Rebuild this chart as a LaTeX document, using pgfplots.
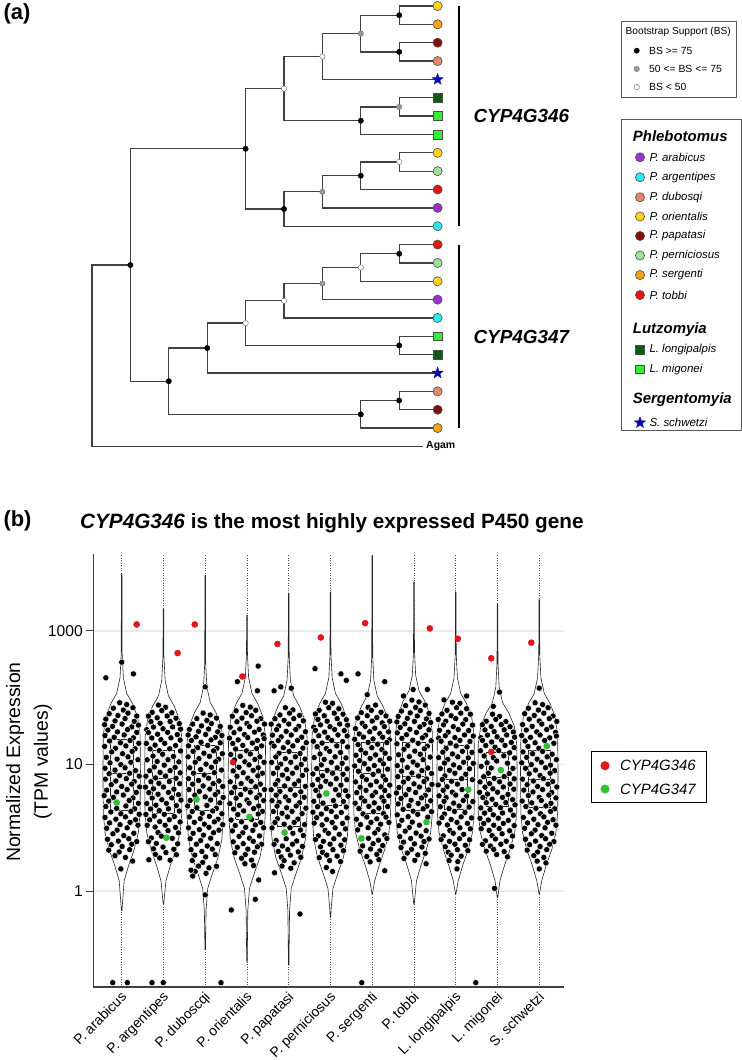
\documentclass[border=0pt]{standalone}
\usepackage{fontspec}
\setmainfont{Liberation Sans}
\usepackage{pgfplots}
\pgfplotsset{compat=1.18}

\definecolor{cArab}{HTML}{9B30D0}
\definecolor{cArg}{HTML}{30E8F0}
\definecolor{cDub}{HTML}{E8866C}
\definecolor{cOri}{HTML}{FFD21E}
\definecolor{cPap}{HTML}{8B0A0A}
\definecolor{cPer}{HTML}{9EE09A}
\definecolor{cSer}{HTML}{F5A01A}
\definecolor{cTob}{HTML}{EE1111}
\definecolor{cLon}{HTML}{0E5A10}
\definecolor{cMig}{HTML}{33EE33}
\definecolor{cSch}{HTML}{0A0AAA}
\definecolor{cR}{HTML}{E8141C}
\definecolor{cG}{HTML}{30C530}

% filled five-point star
\pgfdeclareplotmark{fstar}{%
  \pgfpathmoveto{\pgfqpointpolar{90}{\pgfplotmarksize}}%
  \pgfpathlineto{\pgfqpointpolar{126}{0.42\pgfplotmarksize}}%
  \pgfpathlineto{\pgfqpointpolar{162}{\pgfplotmarksize}}%
  \pgfpathlineto{\pgfqpointpolar{198}{0.42\pgfplotmarksize}}%
  \pgfpathlineto{\pgfqpointpolar{234}{\pgfplotmarksize}}%
  \pgfpathlineto{\pgfqpointpolar{270}{0.42\pgfplotmarksize}}%
  \pgfpathlineto{\pgfqpointpolar{306}{\pgfplotmarksize}}%
  \pgfpathlineto{\pgfqpointpolar{342}{0.42\pgfplotmarksize}}%
  \pgfpathlineto{\pgfqpointpolar{18}{\pgfplotmarksize}}%
  \pgfpathlineto{\pgfqpointpolar{54}{0.42\pgfplotmarksize}}%
  \pgfpathclose\pgfusepathqfillstroke}

\pgfplotsset{
  trln/.style={black!75, line width=1.3bp},
  leafc/.style={only marks, mark=*, mark size=4.6, mark options={draw=black!70, line width=0.6bp, fill=#1}},
  leafs/.style={only marks, mark=square*, mark size=4.4, mark options={draw=black!70, line width=0.6bp, fill=#1}},
  vio/.style={draw=black!85, line width=0.6bp, fill=white},
  bx/.style={draw=black!85, line width=0.6bp, fill=black!5},
  md/.style={draw=black!85, line width=0.7bp},
  pts/.style={only marks, mark=*, mark size=3.1, mark options={fill=black, draw=white, line width=0.4bp}},
}

\begin{document}
\begin{tikzpicture}
\useasboundingbox (0,0) rectangle (742bp,-1060bp);

% ---------------- panel (a): tree, drawn in a page-sized axis (pixel units)
\begin{axis}[at={(0,0)}, anchor=north west, scale only axis,
  width=742bp, height=1060bp, xmin=0, xmax=742, ymin=0, ymax=1060,
  y dir=reverse, hide axis, clip=false]

% branches
\addplot[trln] coordinates {(437.6,6) (399.2,6) (399.2,24.35) (437.6,24.35)};
\addplot[trln] coordinates {(437.6,42.7) (399.2,42.7) (399.2,61.05) (437.6,61.05)};
\addplot[trln] coordinates {(399.2,15.18) (360.8,15.18) (360.8,51.88) (399.2,51.88)};
\addplot[trln] coordinates {(360.8,33.53) (322.4,33.53) (322.4,79.4) (437.6,79.4)};
\addplot[trln] coordinates {(437.6,97.75) (399.2,97.75) (399.2,116.1) (437.6,116.1)};
\addplot[trln] coordinates {(399.2,106.93) (360.8,106.93) (360.8,134.45) (437.6,134.45)};
\addplot[trln] coordinates {(322.4,56.46) (284,56.46) (284,120.69) (360.8,120.69)};
\addplot[trln] coordinates {(437.6,152.8) (399.2,152.8) (399.2,171.15) (437.6,171.15)};
\addplot[trln] coordinates {(399.2,161.98) (360.8,161.98) (360.8,189.5) (437.6,189.5)};
\addplot[trln] coordinates {(360.8,175.74) (322.4,175.74) (322.4,207.85) (437.6,207.85)};
\addplot[trln] coordinates {(322.4,191.8) (284,191.8) (284,226.2) (437.6,226.2)};
\addplot[trln] coordinates {(284,88.58) (245.6,88.58) (245.6,209) (284,209)};
\addplot[trln] coordinates {(437.6,244.55) (399.2,244.55) (399.2,262.9) (437.6,262.9)};
\addplot[trln] coordinates {(399.2,253.73) (360.8,253.73) (360.8,281.25) (437.6,281.25)};
\addplot[trln] coordinates {(360.8,267.49) (322.4,267.49) (322.4,299.6) (437.6,299.6)};
\addplot[trln] coordinates {(322.4,283.55) (284,283.55) (284,317.95) (437.6,317.95)};
\addplot[trln] coordinates {(437.6,336.3) (399.2,336.3) (399.2,354.65) (437.6,354.65)};
\addplot[trln] coordinates {(284,300.75) (245.6,300.75) (245.6,345.48) (399.2,345.48)};
\addplot[trln] coordinates {(245.6,323.1) (207.2,323.1) (207.2,373) (437.6,373)};
\addplot[trln] coordinates {(437.6,391.35) (399.2,391.35) (399.2,409.7) (437.6,409.7)};
\addplot[trln] coordinates {(399.2,400.5) (360.8,400.5) (360.8,428.05) (437.6,428.05)};
\addplot[trln] coordinates {(207.2,348.05) (168.8,348.05) (168.8,414.3) (360.8,414.3)};
\addplot[trln] coordinates {(245.6,148.79) (130.4,148.79) (130.4,381.2) (168.8,381.2)};
\addplot[trln] coordinates {(130.4,265) (92,265) (92,446.4) (422.7,446.4)};

% bootstrap support at nodes (and legend dots)
\addplot[only marks, mark=*, mark size=2.7, mark options={fill=black, draw=black, line width=0.4bp}] coordinates {
 (399.2,15.18) (399.2,51.88) (360.8,120.69) (360.8,175.74) (284,209) (245.6,148.79)
 (399.2,253.73) (399.2,345.48) (207.2,348.05) (399.2,400.5) (360.8,414.3) (168.8,381.2)
 (130.4,265) (636.7,50.7)};
\addplot[only marks, mark=*, mark size=2.7, mark options={fill=black!40, draw=black!55, line width=0.4bp}] coordinates {
 (360.8,33.53) (399.2,106.93) (322.4,191.8) (322.4,283.55) (636.7,69)};
\addplot[only marks, mark=*, mark size=2.7, mark options={fill=white, draw=black!60, line width=0.4bp}] coordinates {
 (322.4,56.46) (284,88.58) (399.2,161.98) (360.8,267.49) (284,300.75) (245.6,323.1) (636.7,87)};

% tips (last point of each series is its legend marker)
\addplot[leafc=cArab] coordinates {(437.6,207.85) (437.6,299.6) (640,157.3)};
\addplot[leafc=cArg] coordinates {(437.6,226.2) (437.6,317.95) (640,177.3)};
\addplot[leafc=cDub] coordinates {(437.6,61.05) (437.6,391.35) (640,197.3)};
\addplot[leafc=cOri] coordinates {(437.6,6) (437.6,152.8) (437.6,281.25) (640,216.5)};
\addplot[leafc=cPap] coordinates {(437.6,42.7) (437.6,409.7) (640,236)};
\addplot[leafc=cPer] coordinates {(437.6,171.15) (437.6,262.9) (640,255.5)};
\addplot[leafc=cSer] coordinates {(437.6,24.35) (437.6,428.05) (640,275)};
\addplot[leafc=cTob] coordinates {(437.6,189.5) (437.6,244.55) (640,295)};
\addplot[leafs=cLon] coordinates {(437.6,97.75) (437.6,354.65) (640,350)};
\addplot[leafs=cMig] coordinates {(437.6,116.1) (437.6,134.45) (437.6,336.3) (640,369.3)};
\addplot[only marks, mark=fstar, mark size=6, mark options={fill=cSch, draw=cSch, line width=0.3bp}] coordinates {(437.6,79.4) (437.6,373) (640,422.7)};

% clade bars
\addplot[black, line width=2bp] coordinates {(459,6) (459,226.2)};
\addplot[black, line width=2bp] coordinates {(459,244.6) (459,428)};

\node[anchor=west, font=\fontsize{22}{24}\selectfont\bfseries] at (0,14) {(a)};
\node[anchor=west, font=\fontsize{19}{22}\selectfont\bfseries\itshape] at (470,116) {CYP4G346};
\node[anchor=west, font=\fontsize{19}{22}\selectfont\bfseries\itshape] at (470,336.5) {CYP4G347};
\node[anchor=west, font=\fontsize{10.5}{12}\selectfont\bfseries, inner sep=1bp] at (425,446.4) {Agam};

% legends of (a)
\draw[black!65, line width=0.8bp] (621,21) rectangle (736,97.7);
\node[anchor=west, font=\fontsize{10.2}{12}\selectfont, inner sep=0pt] at (625.5,32.3) {Bootstrap Support (BS)};
\node[anchor=west, font=\fontsize{10.4}{12}\selectfont, inner sep=0pt] at (649,50.7) {BS >= 75};
\node[anchor=west, font=\fontsize{10.4}{12}\selectfont, inner sep=0pt] at (649,69) {50 <= BS <= 75};
\node[anchor=west, font=\fontsize{10.4}{12}\selectfont, inner sep=0pt] at (649,87) {BS < 50};

\draw[black!65, line width=0.8bp] (621.7,119) rectangle (741,430);
\begin{scope}[every node/.style={anchor=west, inner sep=0pt}]
\node[font=\fontsize{15}{17}\selectfont\bfseries\itshape] at (632.7,135.7) {Phlebotomus};
\node[font=\fontsize{15}{17}\selectfont\bfseries\itshape] at (632.7,329.3) {Lutzomyia};
\node[font=\fontsize{15}{17}\selectfont\bfseries\itshape] at (632.7,400) {Sergentomyia};
\node[font=\fontsize{11.5}{13}\selectfont\itshape] at (649.3,157.3) {P. arabicus};
\node[font=\fontsize{11.5}{13}\selectfont\itshape] at (649.3,177.3) {P. argentipes};
\node[font=\fontsize{11.5}{13}\selectfont\itshape] at (649.3,197.3) {P. dubosqi};
\node[font=\fontsize{11.5}{13}\selectfont\itshape] at (649.3,216.5) {P. orientalis};
\node[font=\fontsize{11.5}{13}\selectfont\itshape] at (649.3,236) {P. papatasi};
\node[font=\fontsize{11.5}{13}\selectfont\itshape] at (649.3,255.5) {P. perniciosus};
\node[font=\fontsize{11.5}{13}\selectfont\itshape] at (649.3,275) {P. sergenti};
\node[font=\fontsize{11.5}{13}\selectfont\itshape] at (649.3,295) {P. tobbi};
\node[font=\fontsize{11.5}{13}\selectfont\itshape] at (649.3,350) {L. longipalpis};
\node[font=\fontsize{11.5}{13}\selectfont\itshape] at (649.3,369.3) {L. migonei};
\node[font=\fontsize{11.5}{13}\selectfont\itshape] at (649.3,422.7) {S. schwetzi};
\end{scope}

% texts and legend of (b)
\node[anchor=west, font=\fontsize{22}{24}\selectfont\bfseries] at (0,521) {(b)};
\node[anchor=west, font=\fontsize{20.8}{24}\selectfont\bfseries, inner sep=0pt] at (80,523) {\textit{CYP4G346} is the most highly expressed P450 gene};
\node[rotate=90, align=center, font=\fontsize{19.5}{28}\selectfont] at (29,762) {Normalized Expression\\(TPM values)};
\draw[black, line width=0.9bp] (591,751) rectangle (706.7,802.3);
\addplot[only marks, mark=*, mark size=4.3, mark options={fill=cR, draw=cR}] coordinates {(605,765.7)};
\addplot[only marks, mark=*, mark size=4.3, mark options={fill=cG, draw=cG}] coordinates {(605,789)};
\node[anchor=west, font=\fontsize{15}{17}\selectfont\itshape, inner sep=0pt] at (620,765.7) {CYP4G346};
\node[anchor=west, font=\fontsize{15}{17}\selectfont\itshape, inner sep=0pt] at (620,789) {CYP4G347};
\end{axis}

% ---------------- panel (b): violins, y in display units (0 = "1", 0.975 = "10", 2 = "1000")
\begin{axis}[at={(93.3bp,-987bp)}, anchor=south west, scale only axis,
  width=471bp, height=433bp,
  xmin=-0.68, xmax=10.6, ymin=-0.7385, ymax=2.592,
  axis x line*=bottom, axis y line*=left,
  axis line style={-, black!75, line width=1.3bp},
  xtick={0,...,10},
  xticklabels={P. arabicus, P. argentipes, P. duboscqi, P. orientalis, P. papatasi, P. perniciosus, P. sergenti, P. tobbi, L. longipalpis, L. migonei, S. schwetzi},
  xtick style={draw=none},
  xticklabel style={rotate=45, anchor=north east, font=\fontsize{14}{16}\selectfont, inner sep=0.5bp, yshift=4bp, xshift=2bp},
  ytick={0,0.975,2}, yticklabels={1,10,1000},
  ytick style={black!75, line width=1bp},
  tick align=outside, major tick length=7bp,
  yticklabel style={font=\fontsize{15.7}{18}\selectfont},
  ymajorgrids, grid style={black!8, line width=1.2bp},
  clip=false]

\pgfplotsinvokeforeach{0,...,10}{\addplot[black!70, dotted, line width=0.5bp] coordinates {(#1,-0.7385) (#1,2.592)};}

% violin outlines
\addplot[vio] coordinates {(0.006,2.44) (0.012,1.82) (0.04,1.64) (0.12,1.52) (0.26,1.44) (0.38,1.34) (0.44,1.2) (0.45,0.9) (0.44,0.6) (0.40,0.45) (0.30,0.32) (0.17,0.2) (0.06,0.08) (0.006,-0.15) (-0.006,-0.15) (-0.06,0.08) (-0.17,0.2) (-0.30,0.32) (-0.40,0.45) (-0.44,0.6) (-0.45,0.9) (-0.44,1.2) (-0.38,1.34) (-0.26,1.44) (-0.12,1.52) (-0.04,1.64) (-0.012,1.82) (-0.006,2.44) (0.006,2.44)};
\addplot[vio] coordinates {(1.006,2.17) (1.012,1.80) (1.04,1.62) (1.12,1.50) (1.26,1.42) (1.38,1.32) (1.44,1.18) (1.45,0.9) (1.44,0.6) (1.40,0.45) (1.30,0.32) (1.17,0.2) (1.06,0.08) (1.006,-0.10) (0.994,-0.10) (0.94,0.08) (0.83,0.2) (0.70,0.32) (0.60,0.45) (0.56,0.6) (0.55,0.9) (0.56,1.18) (0.62,1.32) (0.74,1.42) (0.88,1.50) (0.96,1.62) (0.988,1.80) (0.994,2.17) (1.006,2.17)};
\addplot[vio] coordinates {(2.006,2.43) (2.012,1.75) (2.04,1.57) (2.12,1.45) (2.26,1.37) (2.38,1.27) (2.44,1.13) (2.45,0.9) (2.44,0.6) (2.40,0.4) (2.31,0.26) (2.17,0.13) (2.06,0.02) (2.02,-0.15) (2.006,-0.45) (1.994,-0.45) (1.98,-0.15) (1.94,0.02) (1.83,0.13) (1.69,0.26) (1.60,0.4) (1.56,0.6) (1.55,0.9) (1.56,1.13) (1.62,1.27) (1.74,1.37) (1.88,1.45) (1.96,1.57) (1.988,1.75) (1.994,2.43) (2.006,2.43)};
\addplot[vio] coordinates {(3.006,2.12) (3.012,1.82) (3.04,1.64) (3.12,1.52) (3.26,1.44) (3.38,1.34) (3.44,1.2) (3.45,0.9) (3.44,0.6) (3.40,0.4) (3.31,0.26) (3.17,0.13) (3.06,0.02) (3.02,-0.15) (3.006,-0.54) (2.994,-0.54) (2.98,-0.15) (2.94,0.02) (2.83,0.13) (2.69,0.26) (2.60,0.4) (2.56,0.6) (2.55,0.9) (2.56,1.2) (2.62,1.34) (2.74,1.44) (2.88,1.52) (2.96,1.64) (2.988,1.82) (2.994,2.12) (3.006,2.12)};
\addplot[vio] coordinates {(4.006,2.29) (4.012,1.80) (4.04,1.62) (4.12,1.50) (4.26,1.42) (4.38,1.32) (4.44,1.18) (4.45,0.9) (4.44,0.6) (4.40,0.4) (4.31,0.26) (4.17,0.13) (4.06,0.02) (4.02,-0.15) (4.006,-0.57) (3.994,-0.57) (3.98,-0.15) (3.94,0.02) (3.83,0.13) (3.69,0.26) (3.60,0.4) (3.56,0.6) (3.55,0.9) (3.56,1.18) (3.62,1.32) (3.74,1.42) (3.88,1.50) (3.96,1.62) (3.988,1.80) (3.994,2.29) (4.006,2.29)};
\addplot[vio] coordinates {(5.006,2.30) (5.012,1.82) (5.04,1.64) (5.12,1.52) (5.26,1.44) (5.38,1.34) (5.44,1.2) (5.45,0.9) (5.44,0.6) (5.40,0.4) (5.31,0.26) (5.17,0.13) (5.06,0.02) (5.02,-0.12) (5.006,-0.20) (4.994,-0.20) (4.98,-0.12) (4.94,0.02) (4.83,0.13) (4.69,0.26) (4.60,0.4) (4.56,0.6) (4.55,0.9) (4.56,1.2) (4.62,1.34) (4.74,1.44) (4.88,1.52) (4.96,1.64) (4.988,1.82) (4.994,2.30) (5.006,2.30)};
\addplot[vio] coordinates {(6.006,2.58) (6.012,1.80) (6.04,1.62) (6.12,1.50) (6.26,1.42) (6.38,1.32) (6.44,1.18) (6.45,0.9) (6.44,0.6) (6.40,0.45) (6.30,0.32) (6.17,0.2) (6.06,0.08) (6.006,-0.02) (5.994,-0.02) (5.94,0.08) (5.83,0.2) (5.70,0.32) (5.60,0.45) (5.56,0.6) (5.55,0.9) (5.56,1.18) (5.62,1.32) (5.74,1.42) (5.88,1.50) (5.96,1.62) (5.988,1.80) (5.994,2.58) (6.006,2.58)};
\addplot[vio] coordinates {(7.006,2.38) (7.012,1.84) (7.04,1.66) (7.12,1.54) (7.26,1.46) (7.38,1.36) (7.44,1.22) (7.45,0.9) (7.44,0.6) (7.40,0.45) (7.30,0.32) (7.17,0.2) (7.06,0.08) (7.006,-0.10) (6.994,-0.10) (6.94,0.08) (6.83,0.2) (6.70,0.32) (6.60,0.45) (6.56,0.6) (6.55,0.9) (6.56,1.22) (6.62,1.36) (6.74,1.46) (6.88,1.54) (6.96,1.66) (6.988,1.84) (6.994,2.38) (7.006,2.38)};
\addplot[vio] coordinates {(8.006,2.30) (8.012,1.82) (8.04,1.64) (8.12,1.52) (8.26,1.44) (8.38,1.34) (8.44,1.2) (8.45,0.9) (8.44,0.6) (8.40,0.45) (8.30,0.32) (8.17,0.2) (8.06,0.08) (8.006,-0.02) (7.994,-0.02) (7.94,0.08) (7.83,0.2) (7.70,0.32) (7.60,0.45) (7.56,0.6) (7.55,0.9) (7.56,1.2) (7.62,1.34) (7.74,1.44) (7.88,1.52) (7.96,1.64) (7.988,1.82) (7.994,2.30) (8.006,2.30)};
\addplot[vio] coordinates {(9.006,2.21) (9.012,1.75) (9.04,1.57) (9.12,1.45) (9.27,1.37) (9.40,1.27) (9.46,1.13) (9.47,0.9) (9.46,0.6) (9.41,0.45) (9.30,0.32) (9.17,0.2) (9.06,0.08) (9.006,-0.05) (8.994,-0.05) (8.94,0.08) (8.83,0.2) (8.70,0.32) (8.59,0.45) (8.54,0.6) (8.53,0.9) (8.54,1.13) (8.60,1.27) (8.73,1.37) (8.88,1.45) (8.96,1.57) (8.988,1.75) (8.994,2.21) (9.006,2.21)};
\addplot[vio] coordinates {(10.006,2.24) (10.012,1.82) (10.04,1.64) (10.12,1.52) (10.26,1.44) (10.38,1.34) (10.44,1.2) (10.45,0.9) (10.44,0.6) (10.40,0.45) (10.30,0.32) (10.17,0.2) (10.06,0.08) (10.006,-0.02) (9.994,-0.02) (9.94,0.08) (9.83,0.2) (9.70,0.32) (9.60,0.45) (9.56,0.6) (9.55,0.9) (9.56,1.2) (9.62,1.34) (9.74,1.44) (9.88,1.52) (9.96,1.64) (9.988,1.82) (9.994,2.24) (10.006,2.24)};

% boxes: Q1, median, Q3
\addplot[bx] coordinates {(-0.27,0.62) (0.27,0.62) (0.27,1.17) (-0.27,1.17) (-0.27,0.62)};
\addplot[md] coordinates {(-0.27,0.905) (0.27,0.905)};
\addplot[bx] coordinates {(0.73,0.60) (1.27,0.60) (1.27,1.08) (0.73,1.08) (0.73,0.60)};
\addplot[md] coordinates {(0.73,0.87) (1.27,0.87)};
\addplot[bx] coordinates {(1.73,0.62) (2.27,0.62) (2.27,1.12) (1.73,1.12) (1.73,0.62)};
\addplot[md] coordinates {(1.73,0.905) (2.27,0.905)};
\addplot[bx] coordinates {(2.73,0.55) (3.27,0.55) (3.27,1.085) (2.73,1.085) (2.73,0.55)};
\addplot[md] coordinates {(2.73,0.79) (3.27,0.79)};
\addplot[bx] coordinates {(3.73,0.50) (4.27,0.50) (4.27,1.07) (3.73,1.07) (3.73,0.50)};
\addplot[md] coordinates {(3.73,0.80) (4.27,0.80)};
\addplot[bx] coordinates {(4.73,0.66) (5.27,0.66) (5.27,1.14) (4.73,1.14) (4.73,0.66)};
\addplot[md] coordinates {(4.73,0.93) (5.27,0.93)};
\addplot[bx] coordinates {(5.73,0.60) (6.27,0.60) (6.27,1.14) (5.73,1.14) (5.73,0.60)};
\addplot[md] coordinates {(5.73,0.905) (6.27,0.905)};
\addplot[bx] coordinates {(6.73,0.62) (7.27,0.62) (7.27,1.14) (6.73,1.14) (6.73,0.62)};
\addplot[md] coordinates {(6.73,0.88) (7.27,0.88)};
\addplot[bx] coordinates {(7.73,0.63) (8.27,0.63) (8.27,1.12) (7.73,1.12) (7.73,0.63)};
\addplot[md] coordinates {(7.73,0.855) (8.27,0.855)};
\addplot[bx] coordinates {(8.73,0.65) (9.27,0.65) (9.27,1.07) (8.73,1.07) (8.73,0.65)};
\addplot[md] coordinates {(8.73,0.875) (9.27,0.875)};
\addplot[bx] coordinates {(9.73,0.64) (10.27,0.64) (10.27,1.085) (9.73,1.085) (9.73,0.64)};
\addplot[md] coordinates {(9.73,0.855) (10.27,0.855)};

% all P450 genes (black), one series per species
% P. arabicus
\addplot[pts] coordinates {
(-0.05,1.448) (0.12,1.434) (-0.20,1.406) (0.04,1.392) (0.27,1.41)
(-0.30,1.364) (-0.09,1.35) (0.15,1.368) (0.36,1.346)
(-0.38,1.322) (-0.16,1.308) (0.08,1.326) (0.30,1.304)
(-0.41,1.28) (-0.22,1.266) (0.01,1.284) (0.24,1.262) (0.40,1.276)
(-0.33,1.238) (-0.10,1.224) (0.14,1.242) (0.36,1.22)
(-0.40,1.196) (-0.18,1.182) (0.06,1.2) (0.28,1.178)
(-0.29,1.154) (-0.03,1.14) (0.20,1.158) (0.41,1.136)
(-0.41,1.112) (-0.15,1.098) (0.10,1.116) (0.32,1.094)
(-0.24,1.07) (0.02,1.056) (0.25,1.074)
(-0.37,1.028) (-0.11,1.014) (0.15,1.032) (0.39,1.01)
(-0.28,0.986) (-0.02,0.972) (0.22,0.99)
(-0.40,0.944) (-0.16,0.93) (0.08,0.948) (0.33,0.926)
(-0.30,0.902) (-0.05,0.888) (0.19,0.906) (0.42,0.884)
(-0.39,0.86) (-0.14,0.846) (0.11,0.864) (0.30,0.842)
(-0.25,0.818) (0.00,0.804) (0.24,0.822) (0.43,0.80)
(-0.36,0.776) (-0.12,0.762) (0.13,0.78) (0.35,0.758)
(-0.42,0.734) (-0.20,0.72) (0.04,0.738) (0.27,0.716)
(-0.31,0.692) (0.18,0.696) (0.40,0.674)
(-0.38,0.65) (-0.12,0.636) (0.10,0.654) (0.31,0.632)
(-0.26,0.608) (-0.02,0.594) (0.22,0.612) (0.42,0.59)
(-0.40,0.566) (-0.14,0.552) (0.09,0.57) (0.33,0.548)
(-0.29,0.524) (-0.04,0.51) (0.20,0.528) (0.39,0.506)
(-0.36,0.482) (-0.11,0.468) (0.13,0.486)
(-0.21,0.44) (0.05,0.426) (0.29,0.444)
(-0.34,0.398) (-0.08,0.384) (0.17,0.402) (0.36,0.38)
(-0.25,0.356) (0.01,0.342) (0.24,0.36)
(-0.31,0.314) (-0.06,0.30) (0.19,0.318)
(-0.16,0.272) (0.09,0.258)
(0.0,1.76) (-0.38,1.64) (0.28,1.67) (0.26,0.23) (-0.02,0.17) (-0.215,-0.705) (0.134,-0.705)};
% P. argentipes
\addplot[pts] coordinates {
(1.05,1.413) (0.88,1.43) (1.20,1.371) (0.96,1.388) (0.73,1.374)
(1.30,1.329) (1.09,1.346) (0.85,1.332) (0.64,1.345)
(1.38,1.287) (1.16,1.304) (0.92,1.29) (0.70,1.303)
(1.41,1.245) (1.22,1.262) (0.99,1.248) (0.76,1.261) (0.60,1.241)
(1.33,1.203) (1.10,1.22) (0.86,1.206) (0.64,1.219)
(1.40,1.161) (1.18,1.178) (0.94,1.164) (0.72,1.177)
(1.29,1.119) (1.03,1.136) (0.80,1.122) (0.59,1.135)
(1.41,1.077) (1.15,1.094) (0.90,1.08) (0.68,1.093)
(1.24,1.035) (0.98,1.052) (0.75,1.038)
(1.37,0.993) (1.11,1.01) (0.85,0.996) (0.61,1.009)
(1.28,0.951) (1.02,0.968) (0.78,0.954)
(1.40,0.909) (1.16,0.926) (0.92,0.912) (0.67,0.925)
(1.30,0.867) (1.05,0.884) (0.81,0.87) (0.58,0.883)
(1.39,0.825) (1.14,0.842) (0.89,0.828) (0.70,0.841)
(1.25,0.783) (1.00,0.80) (0.76,0.786) (0.57,0.799)
(1.36,0.741) (1.12,0.758) (0.87,0.744) (0.65,0.757)
(1.42,0.699) (1.20,0.716) (0.96,0.702) (0.73,0.715)
(1.31,0.657) (1.07,0.674) (0.82,0.66) (0.60,0.673)
(1.38,0.615) (1.12,0.632) (0.90,0.618) (0.69,0.631)
(1.26,0.573) (1.02,0.59) (0.78,0.576) (0.58,0.589)
(1.40,0.531) (1.14,0.548) (0.91,0.534) (0.67,0.547)
(1.29,0.489) (1.04,0.506) (0.80,0.492) (0.61,0.505)
(1.36,0.447) (1.11,0.464) (0.87,0.45)
(1.21,0.405) (0.95,0.422) (0.71,0.408)
(1.34,0.363) (0.83,0.366) (0.64,0.379)
(1.25,0.321) (0.99,0.338) (0.76,0.324)
(1.31,0.279) (1.06,0.296) (0.81,0.282)
(1.16,0.237) (0.91,0.254) (0.65,0.24)
(0.725,-0.705) (0.996,-0.705)};
% P. duboscqi
\addplot[pts] coordinates {
(1.95,1.368) (2.12,1.354) (1.80,1.326) (2.04,1.312) (2.27,1.33)
(1.70,1.284) (1.91,1.27) (2.15,1.288) (2.36,1.266)
(1.62,1.242) (1.84,1.228) (2.08,1.246) (2.30,1.224)
(1.59,1.20) (1.78,1.186) (2.01,1.204) (2.24,1.182) (2.40,1.196)
(1.67,1.158) (1.90,1.144) (2.14,1.162) (2.36,1.14)
(1.60,1.116) (1.82,1.102) (2.06,1.12) (2.28,1.098)
(1.71,1.074) (1.97,1.06) (2.20,1.078) (2.41,1.056)
(1.59,1.032) (1.85,1.018) (2.10,1.036) (2.32,1.014)
(1.76,0.99) (2.02,0.976) (2.25,0.994)
(1.63,0.948) (1.89,0.934) (2.15,0.952) (2.39,0.93)
(1.72,0.906) (1.98,0.892) (2.22,0.91)
(1.60,0.864) (1.84,0.85) (2.08,0.868) (2.33,0.846)
(1.70,0.822) (1.95,0.808) (2.19,0.826) (2.42,0.804)
(1.61,0.78) (1.86,0.766) (2.11,0.784) (2.30,0.762)
(1.75,0.738) (2.00,0.724) (2.24,0.742) (2.43,0.72)
(1.64,0.696) (2.13,0.70) (2.35,0.678)
(1.58,0.654) (1.80,0.64) (2.04,0.658) (2.27,0.636)
(1.69,0.612) (1.93,0.598) (2.18,0.616) (2.40,0.594)
(1.62,0.57) (1.88,0.556) (2.10,0.574) (2.31,0.552)
(1.74,0.528) (1.98,0.514) (2.22,0.532) (2.42,0.51)
(1.60,0.486) (1.86,0.472) (2.09,0.49) (2.33,0.468)
(1.71,0.444) (1.96,0.43) (2.20,0.448)
(1.64,0.402) (1.89,0.388) (2.13,0.406)
(1.79,0.36) (2.05,0.346) (2.29,0.364)
(1.66,0.318) (1.92,0.304) (2.17,0.322)
(1.75,0.276) (2.01,0.262) (2.24,0.28)
(1.69,0.234) (1.94,0.22)
(1.84,0.192) (2.09,0.178) (2.27,0.19)
(1.76,0.15) (2.02,0.136)
(2.0,1.57) (2.0,-0.03) (1.66,0.16) (1.70,0.115) (2.378,-0.705)};
% P. orientalis
\addplot[pts] coordinates {
(2.90,1.428) (3.08,1.414) (2.74,1.386) (2.98,1.372) (3.21,1.39)
(2.65,1.344) (2.88,1.33) (3.11,1.348) (3.33,1.326)
(2.76,1.302) (3.00,1.288) (3.24,1.306) (3.42,1.284)
(2.60,1.26) (2.83,1.246) (3.06,1.264) (3.29,1.242)
(2.69,1.218) (2.94,1.204) (3.18,1.222) (3.39,1.20)
(2.58,1.176) (2.79,1.162) (3.02,1.18) (3.25,1.158) (3.41,1.172)
(2.66,1.134) (2.90,1.12) (3.13,1.138) (3.35,1.116)
(2.73,1.092) (2.99,1.078) (3.23,1.096)
(2.61,1.05) (2.84,1.036) (3.08,1.054) (3.31,1.032)
(2.70,1.008) (2.95,0.994) (3.19,1.012) (3.41,0.99)
(2.81,0.952) (3.05,0.97) (3.27,0.948)
(2.67,0.924) (2.91,0.91) (3.15,0.928) (3.37,0.906)
(2.76,0.882) (3.02,0.868) (3.26,0.886)
(2.60,0.84) (2.86,0.826) (3.10,0.844) (3.32,0.822)
(2.71,0.798) (2.96,0.784) (3.21,0.802) (3.42,0.78)
(2.63,0.756) (2.85,0.742) (3.08,0.76) (3.30,0.738)
(2.74,0.714) (3.00,0.70) (3.23,0.718) (3.40,0.696)
(2.59,0.672) (2.82,0.658) (3.05,0.676) (3.28,0.654)
(2.68,0.63) (2.92,0.616) (3.16,0.634) (3.37,0.612)
(2.78,0.588) (3.27,0.592)
(2.62,0.546) (2.87,0.532) (3.11,0.55) (3.33,0.528)
(2.72,0.504) (2.97,0.49) (3.20,0.508) (3.40,0.486)
(2.65,0.462) (2.90,0.448) (3.14,0.466)
(2.81,0.42) (3.06,0.406) (3.30,0.424)
(2.67,0.378) (2.91,0.364) (3.15,0.382) (3.35,0.36)
(2.77,0.336) (3.02,0.322) (3.25,0.34)
(2.71,0.294) (2.96,0.28) (3.18,0.298)
(2.87,0.252) (3.11,0.238) (2.95,0.21) (3.16,0.196)
(2.77,1.61) (3.27,1.73) (3.25,1.54) (3.28,0.085) (3.20,-0.064) (2.625,-0.146)};
% P. papatasi
\addplot[pts] coordinates {
(4.10,1.393) (3.92,1.41) (4.26,1.351) (4.02,1.368) (3.79,1.354)
(4.35,1.309) (4.12,1.326) (3.89,1.312) (3.67,1.325)
(4.24,1.267) (4.00,1.284) (3.76,1.27) (3.58,1.283)
(4.40,1.225) (4.17,1.242) (3.94,1.228) (3.71,1.241)
(4.31,1.183) (4.06,1.20) (3.82,1.186) (3.61,1.199)
(4.42,1.141) (4.21,1.158) (3.98,1.144) (3.75,1.157) (3.59,1.137)
(4.34,1.099) (4.10,1.116) (3.87,1.102) (3.65,1.115)
(4.27,1.057) (4.01,1.074) (3.77,1.06)
(4.39,1.015) (4.16,1.032) (3.92,1.018) (3.69,1.031)
(4.30,0.973) (4.05,0.99) (3.81,0.976) (3.59,0.989)
(4.42,0.931) (4.19,0.948) (3.95,0.934) (3.73,0.947)
(4.33,0.889) (4.09,0.906) (3.85,0.892) (3.63,0.905)
(4.24,0.847) (3.98,0.864) (3.74,0.85)
(4.40,0.805) (4.14,0.822) (3.90,0.808) (3.68,0.821)
(4.29,0.763) (4.04,0.78) (3.79,0.766) (3.58,0.779)
(4.37,0.721) (4.15,0.738) (3.92,0.724) (3.70,0.737)
(4.26,0.679) (4.00,0.696) (3.77,0.682) (3.60,0.695)
(4.41,0.637) (4.18,0.654) (3.95,0.64) (3.72,0.653)
(4.32,0.595) (4.08,0.612) (3.84,0.598) (3.63,0.611)
(4.22,0.553) (3.97,0.57) (3.73,0.556)
(4.38,0.511) (4.13,0.528) (3.89,0.514) (3.67,0.527)
(4.28,0.469) (4.03,0.486) (3.60,0.485)
(4.35,0.427) (4.10,0.444)
(4.19,0.385) (3.94,0.402) (3.70,0.388)
(4.33,0.343) (4.09,0.36) (3.85,0.346) (3.65,0.359)
(4.23,0.301) (3.98,0.318) (3.75,0.304)
(4.29,0.259) (4.04,0.276) (3.82,0.262)
(4.13,0.217) (3.89,0.234) (4.05,0.175) (3.84,0.192)
(3.65,1.54) (3.81,1.57) (4.06,1.56) (4.27,-0.177) (3.66,0.14)};
% P. perniciosus
\addplot[pts] coordinates {
(5.05,1.444) (4.88,1.452) (5.20,1.402) (4.96,1.41) (4.73,1.39)
(5.30,1.36) (5.09,1.368) (4.85,1.348) (4.64,1.362)
(5.38,1.318) (5.16,1.326) (4.92,1.306) (4.70,1.32)
(5.41,1.276) (5.22,1.284) (4.99,1.264) (4.76,1.278) (4.60,1.26)
(5.33,1.234) (5.10,1.242) (4.86,1.222) (4.64,1.236)
(5.40,1.192) (5.18,1.20) (4.94,1.18) (4.72,1.194)
(5.29,1.15) (5.03,1.158) (4.80,1.138) (4.59,1.152)
(5.41,1.108) (5.15,1.116) (4.90,1.096) (4.68,1.11)
(5.24,1.066) (4.98,1.074) (4.75,1.054)
(5.37,1.024) (5.11,1.032) (4.85,1.012) (4.61,1.026)
(5.28,0.982) (5.02,0.99) (4.78,0.97)
(5.40,0.94) (5.16,0.948) (4.92,0.928) (4.67,0.942)
(5.30,0.898) (5.05,0.906) (4.81,0.886) (4.58,0.90)
(5.39,0.856) (5.14,0.864) (4.89,0.844) (4.70,0.858)
(5.25,0.814) (5.00,0.822) (4.76,0.802) (4.57,0.816)
(5.36,0.772) (5.12,0.78) (4.65,0.774)
(5.42,0.73) (5.20,0.738) (4.73,0.732)
(5.31,0.688) (5.07,0.696) (4.82,0.676) (4.60,0.69)
(5.38,0.646) (5.12,0.654) (4.90,0.634) (4.69,0.648)
(5.26,0.604) (5.02,0.612) (4.78,0.592) (4.58,0.606)
(5.40,0.562) (5.14,0.57) (4.91,0.55) (4.67,0.564)
(5.29,0.52) (5.04,0.528) (4.80,0.508) (4.61,0.522)
(5.36,0.478) (5.11,0.486) (4.87,0.466)
(5.21,0.436) (4.95,0.444) (4.71,0.424)
(5.34,0.394) (5.08,0.402) (4.83,0.382) (4.64,0.396)
(5.25,0.352) (4.99,0.36) (4.76,0.34)
(5.31,0.31) (5.06,0.318) (4.81,0.298)
(5.16,0.268) (4.91,0.276) (4.73,0.256)
(5.24,0.226) (4.98,0.234)
(4.63,1.71) (5.25,1.67) (5.38,1.62) (5.05,0.15) (4.90,0.18)};
% P. sergenti
\addplot[pts] coordinates {
(5.90,1.413) (6.08,1.43) (5.74,1.372) (5.98,1.389) (6.21,1.375)
(5.65,1.331) (5.88,1.348) (6.11,1.334) (6.33,1.347)
(5.76,1.29) (6.00,1.307) (6.24,1.293) (6.42,1.306)
(5.60,1.249) (5.83,1.266) (6.06,1.252) (6.29,1.265)
(5.69,1.208) (5.94,1.225) (6.18,1.211) (6.39,1.224)
(5.58,1.167) (5.79,1.184) (6.02,1.17) (6.25,1.183) (6.41,1.163)
(5.66,1.126) (5.90,1.143) (6.13,1.129) (6.35,1.142)
(5.73,1.085) (5.99,1.102) (6.23,1.088)
(5.61,1.044) (5.84,1.061) (6.08,1.047) (6.31,1.06)
(5.70,1.003) (5.95,1.02) (6.19,1.006) (6.41,1.019)
(5.58,0.962) (5.81,0.979) (6.05,0.965) (6.27,0.978)
(5.67,0.921) (5.91,0.938) (6.15,0.924) (6.37,0.937)
(5.76,0.88) (6.02,0.897) (6.26,0.883)
(5.60,0.839) (5.86,0.856) (6.10,0.842) (6.32,0.855)
(5.71,0.798) (5.96,0.815) (6.21,0.801) (6.42,0.814)
(5.63,0.757) (5.85,0.774) (6.08,0.76) (6.30,0.773)
(5.74,0.716) (6.00,0.733) (6.23,0.719) (6.40,0.732)
(5.59,0.675) (5.82,0.692) (6.05,0.678) (6.28,0.691)
(5.68,0.634) (5.92,0.651) (6.16,0.637) (6.37,0.65)
(5.78,0.593) (6.03,0.61) (6.27,0.596)
(5.62,0.552) (5.87,0.569) (6.11,0.555) (6.33,0.568)
(5.72,0.511) (5.97,0.528) (6.20,0.514) (6.40,0.527)
(5.65,0.47) (5.90,0.487) (6.14,0.473)
(6.06,0.446) (6.30,0.432)
(5.91,0.405) (6.15,0.391) (6.35,0.404)
(5.77,0.347) (6.02,0.364) (6.25,0.35)
(5.71,0.306) (5.96,0.323) (6.18,0.309)
(5.87,0.265) (6.11,0.282) (5.95,0.224) (6.16,0.241)
(5.66,1.67) (6.30,1.61) (5.88,1.51) (6.30,0.156) (5.75,-0.705)};
% P. tobbi
\addplot[pts] coordinates {
(6.95,1.468) (7.12,1.454) (6.80,1.426) (7.04,1.412) (7.27,1.43)
(6.70,1.384) (6.91,1.37) (7.15,1.388) (7.36,1.366)
(6.62,1.342) (6.84,1.328) (7.08,1.346) (7.30,1.324)
(6.59,1.30) (6.78,1.286) (7.01,1.304) (7.24,1.282) (7.40,1.296)
(6.67,1.258) (6.90,1.244) (7.14,1.262) (7.36,1.24)
(6.60,1.216) (6.82,1.202) (7.06,1.22) (7.28,1.198)
(6.71,1.174) (6.97,1.16) (7.20,1.178) (7.41,1.156)
(6.59,1.132) (6.85,1.118) (7.10,1.136) (7.32,1.114)
(6.76,1.09) (7.02,1.076) (7.25,1.094)
(6.63,1.048) (6.89,1.034) (7.15,1.052) (7.39,1.03)
(6.72,1.006) (6.98,0.992) (7.22,1.01)
(6.60,0.964) (6.84,0.95) (7.08,0.968) (7.33,0.946)
(6.70,0.922) (6.95,0.908) (7.19,0.926) (7.42,0.904)
(6.61,0.88) (6.86,0.866) (7.11,0.884) (7.30,0.862)
(6.75,0.838) (7.00,0.824) (7.24,0.842) (7.43,0.82)
(6.64,0.796) (6.88,0.782) (7.13,0.80) (7.35,0.778)
(6.58,0.754) (6.80,0.74) (7.04,0.758) (7.27,0.736)
(6.69,0.712) (6.93,0.698) (7.18,0.716) (7.40,0.694)
(6.62,0.67) (6.88,0.656) (7.10,0.674) (7.31,0.652)
(6.74,0.628) (6.98,0.614) (7.22,0.632) (7.42,0.61)
(6.60,0.586) (6.86,0.572) (7.09,0.59) (7.33,0.568)
(6.71,0.544) (6.96,0.53)
(6.64,0.502) (6.89,0.488) (7.13,0.506)
(6.79,0.46) (7.05,0.446) (7.29,0.464)
(6.66,0.418) (6.92,0.404) (7.17,0.422) (7.36,0.40)
(6.75,0.376) (7.01,0.362) (7.24,0.38)
(6.69,0.334) (6.94,0.32) (7.19,0.338)
(6.84,0.292) (7.09,0.278) (7.27,0.29)
(6.76,0.25) (7.02,0.236)
(6.98,1.55) (7.32,1.55) (6.75,1.50) (7.29,0.21)};
% L. longipalpis
\addplot[pts] coordinates {
(8.10,1.444) (7.92,1.452) (8.26,1.402) (8.02,1.41) (7.79,1.39)
(8.35,1.36) (8.12,1.368) (7.89,1.348) (7.67,1.362)
(8.24,1.318) (8.00,1.326) (7.76,1.306) (7.58,1.32)
(8.40,1.276) (8.17,1.284) (7.94,1.264) (7.71,1.278)
(8.31,1.234) (8.06,1.242) (7.82,1.222) (7.61,1.236)
(8.42,1.192) (8.21,1.20) (7.98,1.18) (7.75,1.194) (7.59,1.176)
(8.34,1.15) (8.10,1.158) (7.87,1.138) (7.65,1.152)
(8.27,1.108) (8.01,1.116) (7.77,1.096)
(8.39,1.066) (8.16,1.074) (7.92,1.054) (7.69,1.068)
(8.30,1.024) (8.05,1.032) (7.81,1.012) (7.59,1.026)
(8.42,0.982) (8.19,0.99) (7.95,0.97) (7.73,0.984)
(8.33,0.94) (8.09,0.948) (7.85,0.928) (7.63,0.942)
(8.24,0.898) (7.98,0.906) (7.74,0.886)
(8.40,0.856) (8.14,0.864) (7.90,0.844) (7.68,0.858)
(8.04,0.822) (7.79,0.802) (7.58,0.816)
(8.15,0.78) (7.92,0.76) (7.70,0.774)
(8.26,0.73) (8.00,0.738) (7.77,0.718) (7.60,0.732)
(8.41,0.688) (8.18,0.696) (7.95,0.676) (7.72,0.69)
(8.32,0.646) (8.08,0.654) (7.84,0.634) (7.63,0.648)
(8.22,0.604) (7.97,0.612) (7.73,0.592)
(8.38,0.562) (8.13,0.57) (7.89,0.55) (7.67,0.564)
(8.28,0.52) (8.03,0.528) (7.80,0.508) (7.60,0.522)
(8.35,0.478) (8.10,0.486) (7.86,0.466)
(8.19,0.436) (7.94,0.444) (7.70,0.424)
(8.33,0.394) (8.09,0.402) (7.85,0.382) (7.65,0.396)
(8.23,0.352) (7.98,0.36) (7.75,0.34)
(8.29,0.31) (8.04,0.318) (7.82,0.298)
(8.13,0.268) (7.89,0.276) (8.05,0.226) (7.84,0.234)
(8.26,1.50) (7.72,1.47) (8.03,0.17) (8.48,-0.705)};
% L. migonei
\addplot[pts] coordinates {
(9.05,1.343) (8.88,1.36) (9.20,1.303) (8.96,1.32) (8.73,1.306)
(9.30,1.263) (9.09,1.28) (8.85,1.266) (8.64,1.279)
(9.38,1.223) (9.16,1.24) (8.92,1.226) (8.70,1.239)
(9.41,1.183) (9.22,1.20) (8.99,1.186) (8.76,1.199) (8.60,1.179)
(9.33,1.143) (9.10,1.16) (8.86,1.146) (8.64,1.159)
(9.40,1.103) (9.18,1.12) (8.94,1.106) (8.72,1.119)
(9.29,1.063) (9.03,1.08) (8.59,1.079)
(9.41,1.023) (9.15,1.04) (8.90,1.026) (8.68,1.039)
(9.24,0.983) (8.98,1.00) (8.75,0.986)
(9.37,0.943) (8.85,0.946) (8.61,0.959)
(9.28,0.903) (8.78,0.906)
(9.40,0.863) (9.16,0.88) (8.92,0.866) (8.67,0.879)
(9.30,0.823) (9.05,0.84) (8.81,0.826) (8.58,0.839)
(9.39,0.783) (9.14,0.80) (8.89,0.786) (8.70,0.799)
(9.25,0.743) (9.00,0.76) (8.76,0.746) (8.57,0.759)
(9.36,0.703) (9.12,0.72) (8.87,0.706) (8.65,0.719)
(9.42,0.663) (9.20,0.68) (8.96,0.666) (8.73,0.679)
(9.31,0.623) (9.07,0.64) (8.82,0.626) (8.60,0.639)
(9.38,0.583) (9.12,0.60) (8.90,0.586) (8.69,0.599)
(9.26,0.543) (9.02,0.56) (8.78,0.546) (8.58,0.559)
(9.40,0.503) (9.14,0.52) (8.91,0.506) (8.67,0.519)
(9.29,0.463) (9.04,0.48) (8.80,0.466) (8.61,0.479)
(9.36,0.423) (9.11,0.44) (8.87,0.426)
(9.21,0.383) (8.95,0.40) (8.71,0.386)
(9.34,0.343) (9.08,0.36) (8.83,0.346) (8.64,0.359)
(9.16,0.303) (8.91,0.32) (8.73,0.306)
(9.24,0.263) (8.98,0.28)
(9.05,1.53) (8.90,1.42) (8.93,0.02)};
% S. schwetzi
\addplot[pts] coordinates {
(9.90,1.448) (10.08,1.434) (9.74,1.406) (9.98,1.392) (10.21,1.41)
(9.65,1.364) (9.88,1.35) (10.11,1.368) (10.33,1.346)
(9.76,1.322) (10.00,1.308) (10.24,1.326) (10.42,1.304)
(9.60,1.28) (9.83,1.266) (10.06,1.284) (10.29,1.262)
(9.69,1.238) (9.94,1.224) (10.18,1.242) (10.39,1.22)
(9.58,1.196) (9.79,1.182) (10.02,1.20) (10.25,1.178) (10.41,1.192)
(9.66,1.154) (9.90,1.14) (10.13,1.158) (10.35,1.136)
(9.73,1.112) (9.99,1.098)
(9.61,1.07) (9.84,1.056) (10.08,1.074) (10.31,1.052)
(9.70,1.028) (9.95,1.014) (10.19,1.032) (10.41,1.01)
(9.58,0.986) (9.81,0.972) (10.05,0.99) (10.27,0.968)
(9.67,0.944) (9.91,0.93) (10.15,0.948) (10.37,0.926)
(9.76,0.902) (10.02,0.888) (10.26,0.906)
(9.60,0.86) (9.86,0.846) (10.10,0.864) (10.32,0.842)
(9.71,0.818) (9.96,0.804) (10.21,0.822) (10.42,0.80)
(9.63,0.776) (9.85,0.762) (10.08,0.78) (10.30,0.758)
(9.74,0.734) (10.00,0.72) (10.23,0.738) (10.40,0.716)
(9.59,0.692) (9.82,0.678) (10.05,0.696) (10.28,0.674)
(9.68,0.65) (9.92,0.636) (10.16,0.654) (10.37,0.632)
(9.78,0.608) (10.03,0.594) (10.27,0.612)
(9.62,0.566) (9.87,0.552) (10.11,0.57) (10.33,0.548)
(9.72,0.524) (9.97,0.51) (10.20,0.528) (10.40,0.506)
(9.65,0.482) (9.90,0.468) (10.14,0.486)
(9.81,0.44) (10.06,0.426) (10.30,0.444)
(9.67,0.398) (9.91,0.384) (10.15,0.402) (10.35,0.38)
(9.77,0.356) (10.02,0.342) (10.25,0.36)
(9.71,0.314) (9.96,0.30) (10.18,0.318)
(9.87,0.272) (10.11,0.258) (9.95,0.23) (10.16,0.216)
(10.0,1.56) (10.0,0.17)};

% CYP4G346 (red) and CYP4G347 (green)
\addplot[only marks, mark=*, mark size=3.1, mark options={fill=cR, draw=cR!85!black, line width=0.3bp}] coordinates {
(0.36,2.05) (1.34,1.83) (1.75,2.05) (2.89,1.65) (2.665,0.99) (3.73,1.90) (4.77,1.95)
(5.83,2.06) (7.38,2.02) (8.05,1.94) (8.85,1.79) (8.85,1.07) (9.81,1.91)};
\addplot[only marks, mark=*, mark size=3.1, mark options={fill=cG, draw=cG!85!black, line width=0.3bp}] coordinates {
(-0.12,0.68) (1.07,0.41) (1.79,0.705) (3.06,0.57) (3.90,0.45) (4.90,0.75)
(5.74,0.405) (7.30,0.53) (8.30,0.78) (9.08,0.93) (10.18,1.115)};
\end{axis}
\end{tikzpicture}
\end{document}
